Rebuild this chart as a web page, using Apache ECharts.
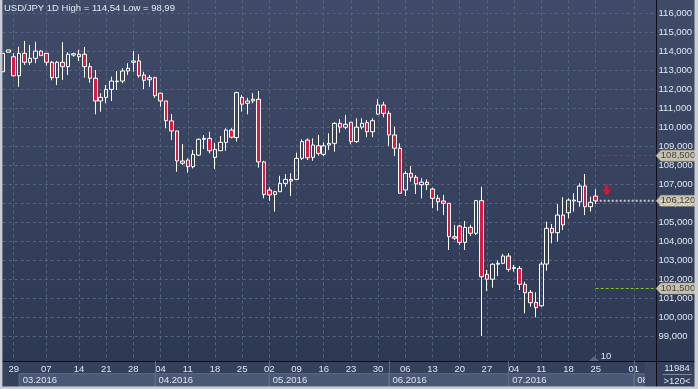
<!DOCTYPE html>
<html><head><meta charset="utf-8">
<script src="https://cdn.jsdelivr.net/npm/echarts/dist/echarts.min.js"></script>
<style>
html,body{margin:0;padding:0;background:#2c3852;}
#c{width:698px;height:389px;background:linear-gradient(#3f4b68,#2c3852);}
</style></head><body><div id="c"></div>
<script>
const FONT = '"Liberation Sans", Arial, sans-serif';
const titleText = 'USD/JPY 1D High = 114,54 Low = 98,99';
const slotCount = 121;

const opens = [112.92,113.95,113.71,112.71,113.89,113.42,113.63,114.01,113.89,113.42,
112.61,113.42,113.19,113.80,113.71,113.84,113.19,112.58,111.38,111.57,
111.99,112.40,112.43,112.96,113.42,113.49,112.75,112.50,112.61,111.79,
111.38,110.33,109.80,108.22,108.27,107.92,108.53,109.36,109.41,108.41,
108.76,109.20,109.85,109.45,111.57,111.26,111.38,111.47,108.17,106.69,
106.46,106.60,107.04,107.25,107.25,108.36,109.32,108.41,109.02,108.57,
109.06,109.15,110.20,110.00,110.26,109.24,110.00,110.24,109.76,110.69,
111.17,110.73,109.59,108.89,106.69,107.57,107.36,106.97,107.10,106.74,
106.25,106.11,105.99,104.23,104.79,103.93,104.72,104.41,106.13,102.25,
101.99,102.78,102.83,103.21,102.56,102.56,101.72,101.30,100.77,100.59,
102.79,104.67,104.44,105.37,105.49,106.11,106.07,106.90,105.81,106.37];
const closes = [113.89,114.07,112.71,113.89,113.42,113.63,114.01,113.77,113.42,112.61,
113.42,113.19,113.84,113.87,113.84,113.19,112.58,111.38,111.57,111.99,
112.43,112.43,112.96,113.10,113.49,112.71,112.47,112.61,111.66,111.38,
110.34,109.80,108.22,108.10,107.92,108.57,109.36,109.41,108.76,108.83,
109.20,109.85,109.47,111.82,111.21,111.38,111.47,108.17,106.46,106.43,
106.60,107.04,107.25,107.16,108.36,109.24,108.39,109.06,108.62,109.02,
109.15,110.20,110.00,110.15,109.24,110.00,110.20,109.76,110.34,111.17,
110.73,109.59,108.89,106.52,107.57,107.36,107.01,107.10,106.97,106.25,
106.07,105.99,104.23,104.15,103.93,104.72,104.41,106.13,102.12,101.99,
102.78,102.83,103.21,102.51,102.60,101.72,101.28,100.75,100.49,102.79,
104.67,104.44,105.37,104.85,106.16,106.16,106.90,105.81,106.04,106.12];
const lows = [112.92,113.95,112.66,112.13,113.28,113.28,113.37,113.77,113.24,112.47,
112.22,112.49,112.75,113.71,113.49,112.61,112.34,110.68,110.82,111.26,
111.38,111.96,112.31,112.75,112.92,112.61,112.01,112.13,111.55,111.08,
109.94,109.32,107.65,108.01,107.60,107.83,108.48,108.85,108.62,107.80,
108.76,108.75,109.41,109.24,110.82,110.68,111.26,107.87,106.25,106.13,
105.55,106.60,106.86,106.37,107.22,108.27,108.27,108.23,108.50,108.48,
108.80,108.71,109.71,109.89,109.10,109.18,109.89,109.47,109.47,110.64,
110.52,109.01,108.48,106.52,106.37,107.13,106.48,106.25,106.69,105.73,
105.60,105.37,103.53,104.06,103.79,103.53,104.27,104.32,98.99,101.37,
101.54,102.16,102.78,102.39,102.39,101.42,100.19,100.54,99.98,100.54,
102.44,103.88,103.97,104.58,105.20,105.55,105.81,105.37,105.55,105.95];
const highs = [113.89,114.07,113.89,114.24,114.54,114.33,114.50,114.05,113.89,113.49,
113.49,114.48,113.95,113.92,114.07,114.22,113.37,113.01,111.79,112.22,
112.66,112.96,113.10,113.37,114.01,113.84,112.92,112.75,112.66,111.79,
111.38,110.69,109.80,109.11,108.36,108.80,109.41,109.59,109.76,109.18,
109.54,109.94,109.94,111.87,111.70,111.55,111.79,111.91,108.23,106.83,
106.65,107.44,107.53,107.57,108.65,109.36,109.41,109.41,109.59,109.20,
109.68,110.26,110.42,110.64,110.26,110.47,110.47,110.38,110.47,111.48,
111.34,110.87,110.03,109.15,107.69,107.95,107.48,107.31,107.25,106.81,
106.43,106.43,105.99,104.85,104.85,105.06,104.85,106.16,106.86,102.48,
102.83,102.97,103.32,103.36,102.74,102.69,101.86,101.42,101.30,102.91,
105.02,104.90,105.95,106.31,106.25,106.52,107.04,107.53,106.34,106.73];

const weekTicks = [[2,'29'],[8,'07'],[14,'14'],[19,'21'],[24,'28'],[29,'04'],[34,'11'],[39,'18'],
  [44,'25'],[49,'02'],[54,'09'],[59,'16'],[64,'23'],[69,'30'],[74,'06'],[79,'13'],[84,'20'],
  [89,'27'],[94,'04'],[99,'11'],[104,'18'],[109,'25'],[116,'01']];
const monthStarts = [[3,'03.2016'],[28,'04.2016'],[49,'05.2016'],[71,'06.2016'],[93,'07.2016'],[116,'08.2016']];
const priceLevels = [108.5, 106.12, 101.5];
const signalArrow = [111, 106.69];
const yMin = 97, yMax = 117, yStep = 1, yFirstLabel = 99, yLastLabel = 116;
const cornerTexts = ['11984', '>120<'];
const noteText = '10';

const levelStyles = [
  {color:'#e0142f', type:[3,3], width:1},
  {color:'#c4c8cf', type:[2,2], width:2},
  {color:'#86c034', type:[3,2], width:1}
];

const slots = Array.from({length: slotCount}, (_, i) => String(i));
const candleData = opens.map((o, i) => [o, closes[i], lows[i], highs[i]]);
const weekMap = Object.fromEntries(weekTicks);
const lastIdx = opens.length - 1;
const fmt = v => v.toFixed(3).replace('.', ',');
const tickVals = [];
for (let v = yMin; v <= yMax; v += yStep) tickVals.push(v);
const splitColors = tickVals.map(v => (v >= yFirstLabel && v <= yLastLabel) ? '#56637f' : 'rgba(0,0,0,0)');

const plotLeft = 2.82, plotWidth = 652.7;
const pxPerUnit = 18.98, y116 = 13.3;
const gTop = y116 - (yMax - 116) * pxPerUnit;
const gHeight = (yMax - yMin) * pxPerUnit;

const chart = echarts.init(document.getElementById('c'), null, {renderer: 'canvas'});

const monthAreas = monthStarts.map(([s, name], k) => {
  const e = k < monthStarts.length - 1 ? monthStarts[k + 1][0] : slotCount - 1;
  return [{xAxis: s, yAxis: 0, name: name}, {xAxis: e, yAxis: 1}];
});

const txt = (text, x, y) => ({type: 'text', x: x, y: y, z: 8, silent: true,
  style: {text: text, fill: '#dde5f0', font: '9.5px ' + FONT, align: 'center', verticalAlign: 'top'}});

const option = {
  animation: false,
  backgroundColor: 'transparent',
  title: {text: titleText, left: 4, top: 3, padding: 0,
    textStyle: {color: '#e4eaf3', fontSize: 9.5, fontWeight: 'normal', fontFamily: FONT}},
  grid: [
    {left: plotLeft, width: plotWidth, top: gTop, height: gHeight, outerBoundsMode: 'none', containLabel: false},
    {left: plotLeft, width: plotWidth, top: 361, height: 25.6, outerBoundsMode: 'none', containLabel: false},
    {left: 656, width: 42, top: gTop, height: gHeight, outerBoundsMode: 'none', containLabel: false}
  ],
  xAxis: [
    {type: 'category', gridIndex: 0, data: slots, boundaryGap: false,
      axisLine: {show: false}, axisTick: {show: false}, axisLabel: {show: false},
      splitLine: {show: true, interval: (i) => weekMap[i] !== undefined,
        lineStyle: {color: '#56637f', type: [3, 3], width: 1}}},
    {type: 'category', gridIndex: 1, data: slots, boundaryGap: false, position: 'top', z: 3,
      axisLine: {show: false}, axisTick: {show: false}, splitLine: {show: false},
      axisLabel: {show: true, inside: true, margin: 3, interval: (i) => weekMap[i] !== undefined,
        formatter: (v, i) => weekMap[i] || '', color: '#dce4ef', fontSize: 9.5, fontFamily: FONT}},
    {type: 'value', gridIndex: 2, min: 0, max: 1, show: false}
  ],
  yAxis: [
    {type: 'value', gridIndex: 0, position: 'right', min: yMin, max: yMax, interval: yStep, scale: true,
      axisLine: {show: false}, axisTick: {show: false},
      axisLabel: {show: true, margin: 3, color: '#dfe7f2', fontSize: 9.5, fontFamily: FONT,
        formatter: v => (v >= yFirstLabel && v <= yLastLabel) ? fmt(v) : ''},
      splitLine: {show: true, lineStyle: {color: splitColors, type: [3, 3], width: 1}}},
    {type: 'value', gridIndex: 1, min: 0, max: 2, show: false},
    {type: 'value', gridIndex: 2, min: yMin, max: yMax, show: false}
  ],
  series: [
    {type: 'candlestick', xAxisIndex: 0, yAxisIndex: 0, data: candleData, barWidth: 4,
      itemStyle: {color: 'rgba(0,0,0,0)', color0: '#e3173e', borderColor: '#ffffff', borderColor0: '#ffffff', borderWidth: 1}},
    ...priceLevels.map((v, k) => ({
      type: 'line', xAxisIndex: 0, yAxisIndex: 0, data: [[lastIdx, v], [slotCount - 1, v]],
      symbol: 'none', silent: true, lineStyle: levelStyles[k], z: 3})),
    {type: 'scatter', xAxisIndex: 0, yAxisIndex: 0, data: [signalArrow], silent: true,
      symbol: 'path://M3,0 L7,0 L7,6 L10,6 L5,12 L0,6 L3,6 Z', symbolSize: [9, 11], symbolKeepAspect: false,
      itemStyle: {color: '#ee1230'}, z: 4},
    {type: 'line', xAxisIndex: 1, yAxisIndex: 1, data: [], silent: true, z: 3,
      markArea: {silent: true, data: monthAreas,
        itemStyle: {color: '#4a5775', borderColor: '#627089', borderWidth: 1},
        label: {show: true, position: 'insideLeft', distance: 4, color: '#dce4ef', fontSize: 9.5, fontFamily: FONT}},
      markLine: {silent: true, symbol: ['none', 'none'], label: {show: false},
        data: monthStarts.slice(1).map(([s]) => ({xAxis: s})),
        lineStyle: {color: '#5e6b86', type: 'solid', width: 1}}},
    {type: 'scatter', xAxisIndex: 2, yAxisIndex: 2, clip: false, silent: true, z: 5,
      data: priceLevels.map(v => [0, v]),
      symbol: 'path://M0,5.5 L5,0 L41,0 L41,11 L5,11 Z', symbolSize: [41, 11], symbolOffset: [20.5, 0],
      symbolKeepAspect: false,
      itemStyle: {color: '#ebe1c1', borderColor: '#a99f80', borderWidth: 0.5},
      label: {show: true, position: 'inside', formatter: p => fmt(p.value[1]), offset: [1.5, 0],
        color: '#1e1e1e', fontSize: 9.5, fontFamily: FONT}}
  ],
  graphic: [
    {type: 'rect', shape: {x: 0, y: 361, width: 698, height: 28}, style: {fill: '#35415c'}, z: 1, z2: 0, silent: true},
    {type: 'line', shape: {x1: 0, y1: 361.5, x2: 698, y2: 361.5}, style: {stroke: '#0c0f16', lineWidth: 1}, z: 1, z2: 2, silent: true},
    {type: 'line', shape: {x1: 656.5, y1: 0, x2: 656.5, y2: 389}, style: {stroke: '#0c0f16', lineWidth: 1}, z: 1, z2: 2, silent: true},
    {type: 'rect', shape: {x: 645, y: 362, width: 11, height: 25}, style: {fill: '#3c4863'}, z: 7, silent: true},
    {type: 'rect', shape: {x: 657, y: 362, width: 38, height: 25}, style: {fill: '#35415c'}, z: 7, silent: true},
    {type: 'line', shape: {x1: 656.5, y1: 361, x2: 656.5, y2: 389}, style: {stroke: '#0c0f16', lineWidth: 1}, z: 7, silent: true},
    txt(cornerTexts[0], 677, 363),
    {type: 'line', shape: {x1: 663, y1: 374.5, x2: 692, y2: 374.5}, style: {stroke: '#7f8aa0', lineWidth: 1}, z: 8, silent: true},
    txt(cornerTexts[1], 677, 376.5),
    {type: 'polygon', shape: {points: [[589, 361], [594, 356], [599, 361]]}, style: {fill: '#5b6478'}, z: 6, silent: true},
    txt(noteText, 606, 351),
    {type: 'rect', shape: {x: 0, y: 0, width: 2.4, height: 389}, style: {fill: '#c9cdd4'}, z: 10, silent: true},
    {type: 'rect', shape: {x: 694.5, y: 0, width: 3.5, height: 389}, style: {fill: '#c9cdd4'}, z: 10, silent: true},
    {type: 'rect', shape: {x: 0, y: 386.6, width: 698, height: 2.4}, style: {fill: '#c9cdd4'}, z: 10, silent: true}
  ]
};
chart.setOption(option);
</script></body></html>
